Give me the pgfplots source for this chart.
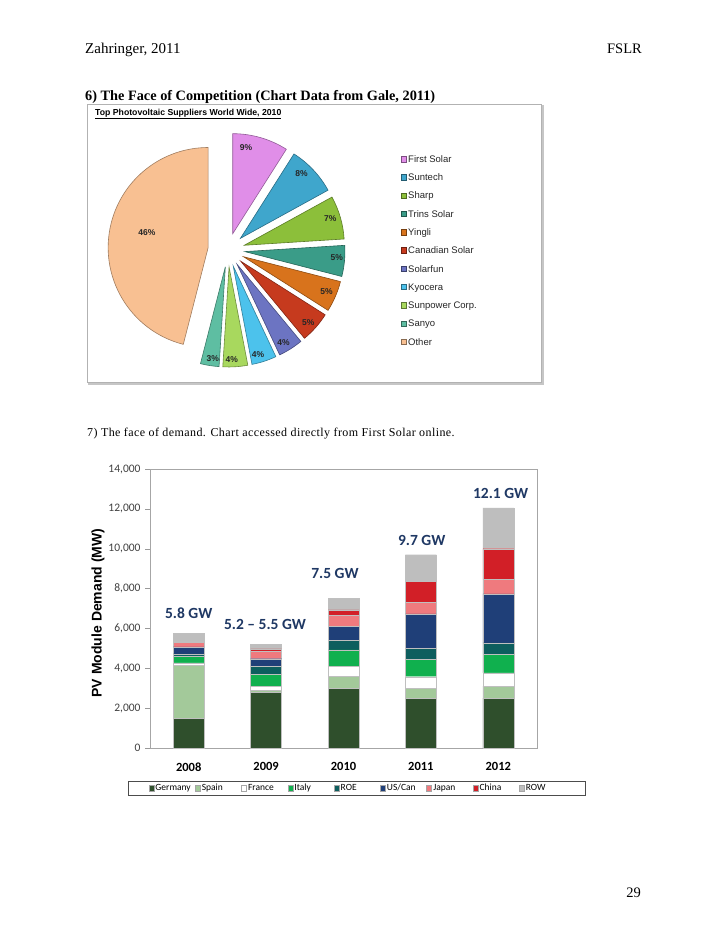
\documentclass[border=0pt]{standalone}
\usepackage{pgfplots}
\pgfplotsset{compat=1.18}
\usepackage{fontspec}
\setmainfont{Liberation Serif}
\newfontfamily\arial{Liberation Sans}
\newfontfamily\calibri{Carlito}
\newfontfamily\timesls[LetterSpace=3.5]{Liberation Serif}

% pie colours
\definecolor{pFirst}{HTML}{E08EE8}
\definecolor{pSuntech}{HTML}{3FA6CC}
\definecolor{pSharp}{HTML}{8CBF3A}
\definecolor{pTrins}{HTML}{3A9C88}
\definecolor{pYingli}{HTML}{D8731C}
\definecolor{pCanadian}{HTML}{C63A1E}
\definecolor{pSolarfun}{HTML}{6C74C2}
\definecolor{pKyocera}{HTML}{4CC2EC}
\definecolor{pSunpower}{HTML}{A8D85E}
\definecolor{pSanyo}{HTML}{5EBEA2}
\definecolor{pOther}{HTML}{F8C092}
% bar colours
\definecolor{cGermany}{HTML}{2F4F2C}
\definecolor{cSpain}{HTML}{A3C99A}
\definecolor{cFrance}{HTML}{FFFFFF}
\definecolor{cItaly}{HTML}{10B04E}
\definecolor{cROE}{HTML}{0D5E5E}
\definecolor{cUSCan}{HTML}{1F3F78}
\definecolor{cJapan}{HTML}{EF7A7E}
\definecolor{cChina}{HTML}{D21F27}
\definecolor{cROW}{HTML}{BEBEBE}
\definecolor{gwblue}{HTML}{1F3864}

\begin{document}
\begin{tikzpicture}
\path[use as bounding box] (0bp,0bp) rectangle (728bp,-942bp);
\fill[white] (0bp,0bp) rectangle (728bp,-942bp);

% page text
\node[anchor=base west, inner sep=0] at (85bp,-53bp) {\fontsize{15bp}{18bp}\selectfont Zahringer, 2011};
\node[anchor=base east, inner sep=0] at (642bp,-53bp) {\fontsize{14.5bp}{18bp}\selectfont FSLR};
\node[anchor=base west, inner sep=0] at (85bp,-100bp) {\fontsize{14.3bp}{17bp}\selectfont\bfseries 6) The Face of Competition (Chart Data from Gale, 2011)};
\node[anchor=base west, inner sep=0] at (87bp,-436bp) {\fontsize{12bp}{14bp}\timesls 7) The face of demand. Chart accessed directly from First Solar online.};
\node[anchor=base east, inner sep=0] at (641bp,-897bp) {\fontsize{14.5bp}{17bp}\selectfont 29};

% pie frame
\draw[gray!45, line width=2bp] (89bp,-106bp) rectangle (543bp,-384bp);
\filldraw[fill=white, draw=gray!60, line width=0.6bp] (87bp,-104bp) rectangle (541.5bp,-382.5bp);
\node[anchor=base west, inner sep=0] at (95bp,-115bp) {\arial\bfseries\fontsize{8.7bp}{10bp}\selectfont\underline{Top Photovoltaic Suppliers World Wide, 2010}};

% pie chart
\begin{axis}[
  at={(228bp,-250bp)}, anchor=origin,
  x=1bp, y=1bp, hide axis, clip=false,
  xmin=-140, xmax=320, ymin=-140, ymax=140,
]
\pgfplotsextra{
  \xdef\startang{90}
  \foreach \p/\col/\name/\ex/\la/\ld [count=\i] in {
     9/pFirst/First Solar/17/80/104,
     8/pSuntech/Suntech/17/46/106,
     7/pSharp/Sharp/17/17/107,
     5/pTrins/Trins Solar/17/-4/109,
     5/pYingli/Yingli/17/-23/107,
     5/pCanadian/Canadian Solar/17/-42/108,
     4/pSolarfun/Solarfun/17/-59/108,
     4/pKyocera/Kyocera/17/-74/109,
     4/pSunpower/Sunpower Corp./17/-88/110,
     3/pSanyo/Sanyo/17/-98/110,
     46/pOther/Other/20/168/83} {
     \pgfmathsetmacro\endang{\startang-3.6*\p}
     \pgfmathsetmacro\midang{(\startang+\endang)/2}
     \fill[\col, draw=\col!65!black, line width=0.6bp]
        (axis cs:0,0) ++(\midang:\ex bp) -- ++(\startang:100bp)
        arc[start angle=\startang, end angle=\endang, radius=100bp] -- cycle;
     \path (axis cs:0,0) ++(\la:\ld bp) node[font=\arial\bfseries\fontsize{8.5bp}{10bp}\selectfont, text=black!85, inner sep=0] {\p\%};
     % legend
     \pgfmathsetmacro\ly{91-(\i-1)*18.27}
     \pgfmathsetmacro\lya{\ly-2.7}
     \pgfmathsetmacro\lyb{\ly+2.7}
     \pgfmathsetmacro\lyt{\ly-3.4}
     \filldraw[fill=\col, draw=\col!55!black, line width=0.4bp] (axis cs:172.7,\lya) rectangle (axis cs:178,\lyb);
     \node[anchor=base west, inner sep=0, font=\arial\fontsize{9.5bp}{11bp}\selectfont, text=black!85] at (axis cs:180,\lyt) {\name};
     \xdef\startang{\endang}
  }
}
\end{axis}

% bar chart
\node[rotate=90, inner sep=0] at (98bp,-613bp) {\arial\bfseries\fontsize{14bp}{16bp}\selectfont PV Module Demand (MW)};
\begin{axis}[
  at={(150bp,-748bp)}, anchor=south west,
  scale only axis, width=387bp, height=279bp,
  ybar stacked, bar width=31bp,
  xmin=-0.5, xmax=4.5, ymin=0, ymax=14000,
  xtick={0,1,2,3,4}, xticklabels={2008,2009,2010,2011,2012},
  xtick style={draw=none},
  extra x ticks={-0.5,0.5,1.5,2.5,3.5,4.5},
  extra x tick labels={},
  extra x tick style={major tick length=5bp, tick style={draw=gray!80}},
  ytick={0,2000,...,14000},
  scaled y ticks=false,
  ytick style={draw=gray!80},
  major tick length=5bp,
  tick align=outside, tick pos=left,
  axis line style={draw=gray!70, line width=0.6bp},
  /pgf/number format/1000 sep={,},
  /pgf/number format/assume math mode=true,
  yticklabel style={font=\calibri\fontsize{11.5bp}{13bp}\selectfont, text=black!75, xshift=-1bp, /pgf/number format/fixed},
  xticklabel style={font=\calibri\bfseries\fontsize{12.5bp}{14bp}\selectfont, yshift=-6bp},
  legend columns=9,
  legend style={at={(0.535,-0.143)}, anchor=center, draw=black!70, line width=0.6bp,
     font=\calibri\fontsize{9.5bp}{11bp}\selectfont,
     inner xsep=20bp, inner ysep=2bp,
     nodes={inner xsep=1.5bp, inner ysep=1bp},
     /tikz/every even column/.append style={column sep=0bp}},
  legend image code/.code={\filldraw[#1, draw=gray!70, line width=0.3bp] (0bp,-2.8bp) rectangle (5bp,2.8bp);},
  every axis plot/.append style={draw=black!25, line width=0.3bp},
  clip=false,
]
\addplot[fill=cGermany] coordinates {(0,1500) (1,2780) (2,3000) (3,2500) (4,2500)};
\addplot[fill=cSpain] coordinates {(0,2650) (1,120) (2,600) (3,500) (4,600)};
\addplot[fill=cFrance] coordinates {(0,120) (1,180) (2,500) (3,580) (4,670)};
\addplot[fill=cItaly] coordinates {(0,330) (1,620) (2,830) (3,870) (4,930)};
\addplot[fill=cROE] coordinates {(0,120) (1,400) (2,470) (3,550) (4,580)};
\addplot[fill=cUSCan] coordinates {(0,350) (1,380) (2,700) (3,1730) (4,2450)};
\addplot[fill=cJapan] coordinates {(0,230) (1,370) (2,550) (3,580) (4,720)};
\addplot[fill=cChina] coordinates {(0,50) (1,130) (2,280) (3,1070) (4,1550)};
\addplot[fill=cROW] coordinates {(0,400) (1,220) (2,570) (3,1320) (4,2050)};
\legend{\makebox[38bp][l]{Germany},\makebox[38bp][l]{Spain},\makebox[38bp][l]{France},\makebox[38bp][l]{Italy},\makebox[38bp][l]{ROE},\makebox[38bp][l]{US/Can},\makebox[38bp][l]{Japan},\makebox[38bp][l]{China},\makebox[38bp][l]{ROW}}
\draw[gray!70, line width=0.6bp] (rel axis cs:0,1) -- (rel axis cs:1,1) -- (rel axis cs:1,0);
\node[font=\calibri\bfseries\fontsize{15.5bp}{17bp}\selectfont, text=gwblue] at (axis cs:0,6750) {5.8 GW};
\node[font=\calibri\bfseries\fontsize{15.5bp}{17bp}\selectfont, text=gwblue] at (axis cs:0.986,6200) {5.2 – 5.5 GW};
\node[font=\calibri\bfseries\fontsize{15.5bp}{17bp}\selectfont, text=gwblue] at (axis cs:1.89,8750) {7.5 GW};
\node[font=\calibri\bfseries\fontsize{15.5bp}{17bp}\selectfont, text=gwblue] at (axis cs:3.01,10425) {9.7 GW};
\node[font=\calibri\bfseries\fontsize{15.5bp}{17bp}\selectfont, text=gwblue] at (axis cs:4.03,12750) {12.1 GW};
\end{axis}
\end{tikzpicture}
\end{document}
